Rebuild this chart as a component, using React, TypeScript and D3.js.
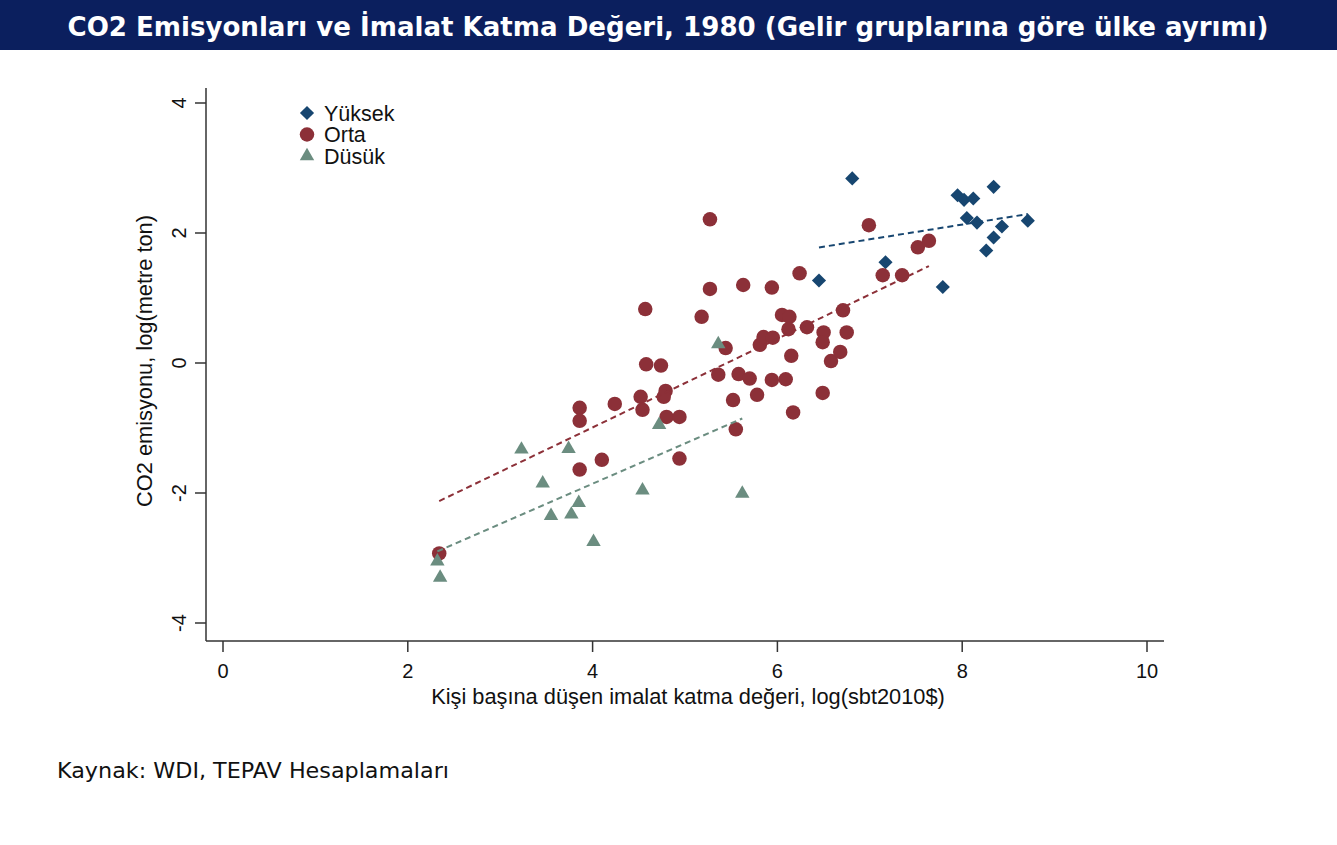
import { useEffect, useRef } from 'react';
import * as d3 from 'd3';

const TITLE = 'CO2 Emisyonları ve İmalat Katma Değeri, 1980 (Gelir gruplarına göre ülke ayrımı)';
const SOURCE = 'Kaynak: WDI, TEPAV Hesaplamaları';
const X_LABEL = 'Kişi başına düşen imalat katma değeri, log(sbt2010$)';
const Y_LABEL = 'CO2 emisyonu, log(metre ton)';

const xTicks = [0, 2, 4, 6, 8, 10];
const yTicks = [-4, -2, 0, 2, 4];

const groups = ['Yüksek', 'Orta', 'Düsük'];
const groupColors = ['#174670', '#8c3038', '#6b8d80'];
const groupShapes = ['diamond', 'circle', 'triangle'];

// [log manufacturing value added per capita, log CO2]
const yuksek: [number, number][] = [
  [6.81, 2.84], [7.95, 2.58], [8.02, 2.51], [8.12, 2.53], [8.34, 2.71],
  [8.05, 2.23], [8.16, 2.16], [8.43, 2.10], [8.34, 1.93], [8.26, 1.73],
  [8.71, 2.19], [7.17, 1.55], [6.45, 1.27], [7.79, 1.17],
];

const orta: [number, number][] = [
  [2.34, -2.93], [3.86, -1.64], [4.10, -1.49], [4.94, -1.47], [3.86, -0.69],
  [3.86, -0.89], [4.24, -0.63], [4.52, -0.52], [4.54, -0.72], [4.79, -0.43],
  [4.77, -0.52], [4.80, -0.83], [4.94, -0.83], [4.58, -0.02], [4.74, -0.04],
  [4.57, 0.83], [5.18, 0.71], [5.27, 1.14], [5.27, 2.21], [5.63, 1.20],
  [5.94, 1.16], [5.44, 0.23], [5.36, -0.18], [5.58, -0.17], [5.70, -0.24],
  [5.52, -0.57], [5.55, -1.02], [5.78, -0.49], [5.81, 0.28], [5.85, 0.40],
  [5.95, 0.39], [5.94, -0.26], [6.09, -0.25], [6.05, 0.74], [6.13, 0.71],
  [6.12, 0.52], [6.15, 0.11], [6.17, -0.76], [6.24, 1.38], [6.32, 0.55],
  [6.50, 0.47], [6.49, 0.32], [6.49, -0.46], [6.58, 0.03], [6.68, 0.17],
  [6.71, 0.81], [6.75, 0.47], [6.99, 2.12], [7.14, 1.35], [7.35, 1.35],
  [7.52, 1.78], [7.64, 1.88],
];

const dusuk: [number, number][] = [
  [5.36, 0.29], [4.72, -0.95], [3.23, -1.33], [3.74, -1.32], [3.46, -1.85],
  [3.85, -2.15], [3.55, -2.35], [3.77, -2.33], [4.01, -2.75], [4.54, -1.96],
  [5.62, -2.01], [2.32, -3.05], [2.35, -3.30],
];

const series = [yuksek, orta, dusuk];

// least squares line over the group's x range
function fitLine(pts: [number, number][]) {
  const mx = d3.mean(pts, d => d[0])!;
  const my = d3.mean(pts, d => d[1])!;
  const sxy = d3.sum(pts, d => (d[0] - mx) * (d[1] - my));
  const sxx = d3.sum(pts, d => (d[0] - mx) ** 2);
  const b = sxy / sxx;
  const a = my - b * mx;
  const [x0, x1] = d3.extent(pts, d => d[0]) as [number, number];
  return [[x0, a + b * x0], [x1, a + b * x1]] as [number, number][];
}

function symbolFor(shape: string) {
  if (shape === 'diamond') return d3.symbol().type(d3.symbolSquare).size(100)();
  if (shape === 'triangle') return d3.symbol().type(d3.symbolTriangle).size(90)();
  return d3.symbol().type(d3.symbolCircle).size(165)();
}

export default function App() {
  const ref = useRef<SVGSVGElement>(null);

  useEffect(() => {
    document.body.style.margin = '0';
    if (!ref.current) return;
    const svg = d3.select(ref.current);
    svg.selectAll('*').remove();

    const axisFont = '"Liberation Sans", Arial, sans-serif';
    const x = d3.scaleLinear().domain([0, 10]).range([223, 1147]);
    const y = d3.scaleLinear().domain([-4, 4]).range([623, 103]);

    // title bar
    svg.append('rect').attr('x', 0).attr('y', 0).attr('width', 1337).attr('height', 50).attr('fill', '#0b1f5e');
    svg.append('text')
      .attr('x', 668).attr('y', 36)
      .attr('text-anchor', 'middle')
      .attr('fill', '#ffffff')
      .attr('font-family', '"DejaVu Sans", Verdana, sans-serif')
      .attr('font-weight', 'bold')
      .attr('font-size', 26)
      .attr('textLength', 1201)
      .attr('lengthAdjust', 'spacingAndGlyphs')
      .text(TITLE);

    // axes
    const axisColor = '#333';
    svg.append('line').attr('x1', 206).attr('x2', 206).attr('y1', 88).attr('y2', 641)
      .attr('stroke', axisColor).attr('stroke-width', 1.5);
    svg.append('line').attr('x1', 206).attr('x2', 1164).attr('y1', 641).attr('y2', 641)
      .attr('stroke', axisColor).attr('stroke-width', 1.5);

    const xt = svg.append('g');
    xTicks.forEach(t => {
      xt.append('line').attr('x1', x(t)).attr('x2', x(t)).attr('y1', 641).attr('y2', 652)
        .attr('stroke', axisColor).attr('stroke-width', 1.5);
      xt.append('text').attr('x', x(t)).attr('y', 678).attr('text-anchor', 'middle')
        .attr('font-family', axisFont).attr('font-size', 20).attr('fill', '#111').text(t);
    });

    const yt = svg.append('g');
    yTicks.forEach(t => {
      yt.append('line').attr('x1', 195).attr('x2', 206).attr('y1', y(t)).attr('y2', y(t))
        .attr('stroke', axisColor).attr('stroke-width', 1.5);
      yt.append('text')
        .attr('transform', `translate(186, ${y(t)}) rotate(-90)`)
        .attr('text-anchor', 'middle')
        .attr('font-family', axisFont).attr('font-size', 20).attr('fill', '#111').text(t);
    });

    svg.append('text')
      .attr('x', 688).attr('y', 704).attr('text-anchor', 'middle')
      .attr('font-family', axisFont).attr('font-size', 21.8).attr('fill', '#111')
      .text(X_LABEL);
    svg.append('text')
      .attr('transform', `translate(152, 361) rotate(-90)`)
      .attr('text-anchor', 'middle')
      .attr('font-family', axisFont).attr('font-size', 21.8).attr('fill', '#111')
      .text(Y_LABEL);

    // markers
    series.forEach((pts, i) => {
      const shape = groupShapes[i];
      svg.append('g').selectAll('path').data(pts).enter().append('path')
        .attr('d', symbolFor(shape))
        .attr('transform', d => `translate(${x(d[0])}, ${y(d[1])})${shape === 'diamond' ? ' rotate(45)' : ''}`)
        .attr('fill', groupColors[i]);
    });

    // fit lines
    const line = d3.line<[number, number]>().x(d => x(d[0])).y(d => y(d[1]));
    series.forEach((pts, i) => {
      svg.append('path')
        .attr('d', line(fitLine(pts)))
        .attr('fill', 'none')
        .attr('stroke', groupColors[i])
        .attr('stroke-width', 2)
        .attr('stroke-dasharray', '6,4');
    });

    // legend
    const lg = svg.append('g');
    groups.forEach((g, i) => {
      const ly = 113 + i * 21.5;
      lg.append('path')
        .attr('d', symbolFor(groupShapes[i]))
        .attr('transform', `translate(307, ${ly})${groupShapes[i] === 'diamond' ? ' rotate(45)' : ''}`)
        .attr('fill', groupColors[i]);
      lg.append('text').attr('x', 324).attr('y', ly + 7.5)
        .attr('font-family', axisFont).attr('font-size', 21.5).attr('fill', '#111').text(g);
    });

    // source note
    svg.append('text')
      .attr('x', 57).attr('y', 778)
      .attr('font-family', '"DejaVu Sans", Verdana, sans-serif')
      .attr('font-size', 22)
      .attr('fill', '#111')
      .attr('textLength', 392)
      .attr('lengthAdjust', 'spacingAndGlyphs')
      .text(SOURCE);
  }, []);

  return <svg ref={ref} width={1337} height={845} style={{ display: 'block', background: '#fff' }} />;
}
